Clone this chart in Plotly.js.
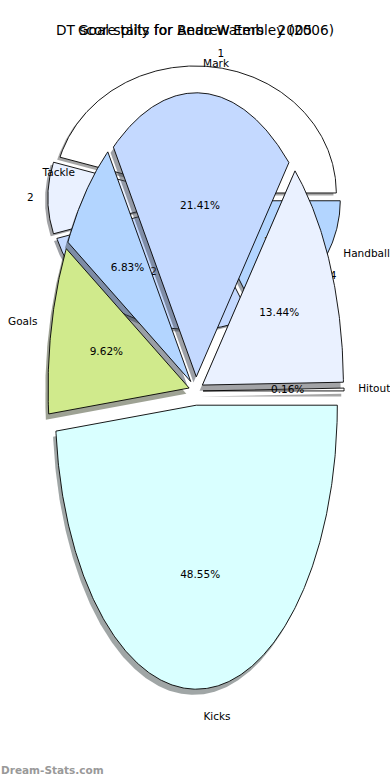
<!DOCTYPE html>
<html>
<head>
<meta charset="utf-8">
<script src="https://cdn.plot.ly/plotly-3.0.1.min.js"></script>
<style>
html,body{margin:0;padding:0;background:#ffffff;}
#chart{width:390px;height:780px;}
</style>
</head>
<body>
<div id="chart"></div>
<script>
// ---------------- DATA ----------------
// Front pie: DT score tally (percent of total), counter-clockwise from 0 deg
const dtLabels  = ['Hitout', 'Handballs', 'Mark', 'Tackle', 'Goals', 'Kicks'];
const dtPercent = [0.16, 13.44, 21.41, 6.83, 9.62, 48.55];
const dtColors  = ['#FFFFFF', '#EAF1FF', '#C4D9FF', '#B3D5FF', '#D0EA8C', '#D9FFFF'];
const dtTitle   = 'DT score tally for Andrew Embley (2006)';

// Back pie: goal splits by quarter
const gsLabels  = ['1', '2', '3', '4'];
const gsGoals   = [5, 1, 3, 2];
const gsColors  = ['#FFFFFF', '#EAF1FF', '#C4D9FF', '#B3D5FF'];
const gsTitle   = 'Goal splits for Beau Waters - 2005';

const watermark = 'Dream-Stats.com';

// ---------------- GEOMETRY / STYLE ----------------
const W = 390, H = 780;
const FONT = 'DejaVu Sans, Verdana, sans-serif';
const dtGeom = {cx: 196, cy: 391, rx: 141, ry: 284, explode: 0.05};
const gsGeom = {cx: 194.5, cy: 198, rx: 141, ry: 127, explode: 0.04};

function shadowColor(hex) {
  const r = parseInt(hex.slice(1,3),16), g = parseInt(hex.slice(3,5),16), b = parseInt(hex.slice(5,7),16);
  return 'rgba(' + Math.round(0.3*r) + ',' + Math.round(0.3*g) + ',' + Math.round(0.3*b) + ',0.5)';
}

function buildPie(values, labels, colors, geom, xa, ya, pctFmt) {
  const total = values.reduce((a, b) => a + b, 0);
  const shadows = [], wedges = [];
  const lx = [], ly = [], lt = [], lp = [];
  const px = [], py = [], pt = [];
  let t1 = 0;
  values.forEach((v, i) => {
    const t2 = t1 + 360 * v / total;
    const mid = (t1 + t2) / 2 * Math.PI / 180;
    const ox = geom.explode * Math.cos(mid), oy = geom.explode * Math.sin(mid);
    const xs = [ox], ys = [oy];
    const n = Math.max(2, Math.ceil((t2 - t1) / 0.5));
    for (let k = 0; k <= n; k++) {
      const t = (t1 + (t2 - t1) * k / n) * Math.PI / 180;
      xs.push(ox + Math.cos(t));
      ys.push(oy + Math.sin(t));
    }
    xs.push(ox); ys.push(oy);
    shadows.push({
      type: 'scatter', mode: 'lines', xaxis: xa, yaxis: ya,
      x: xs.map(q => q - 0.02), y: ys.map(q => q - 0.02),
      fill: 'toself', fillcolor: shadowColor(colors[i]),
      line: {width: 0, color: 'rgba(0,0,0,0)'}, hoverinfo: 'skip', showlegend: false
    });
    wedges.push({
      type: 'scatter', mode: 'lines', xaxis: xa, yaxis: ya,
      x: xs, y: ys, fill: 'toself', fillcolor: colors[i],
      line: {width: 0.9, color: '#000000'}, hoverinfo: 'skip', showlegend: false
    });
    const cl = Math.cos(mid), sl = Math.sin(mid);
    lx.push((1.1 + geom.explode) * cl); ly.push((1.1 + geom.explode) * sl);
    lt.push(labels[i]);
    lp.push(cl > 0 ? 'middle right' : 'middle left');
    px.push((0.6 + geom.explode) * cl); py.push((0.6 + geom.explode) * sl);
    pt.push(pctFmt(100 * v / total));
    t1 = t2;
  });
  const labelTrace = {
    type: 'scatter', mode: 'text', xaxis: xa, yaxis: ya,
    x: lx, y: ly, text: lt, textposition: lp,
    textfont: {family: FONT, size: 10.5, color: '#000000'},
    hoverinfo: 'skip', showlegend: false, cliponaxis: false
  };
  const pctTrace = {
    type: 'scatter', mode: 'text', xaxis: xa, yaxis: ya,
    x: px, y: py, text: pt, textposition: 'middle center',
    textfont: {family: FONT, size: 10.5, color: '#000000'},
    hoverinfo: 'skip', showlegend: false, cliponaxis: false
  };
  return shadows.concat(wedges, [labelTrace, pctTrace]);
}

const backTraces  = buildPie(gsGoals, gsLabels, gsColors, gsGeom, 'x', 'y',
                             p => String(Math.floor(p)));
const frontTraces = buildPie(dtPercent, dtLabels, dtColors, dtGeom, 'x2', 'y2',
                             p => p.toFixed(2) + '%');

function axisRangeX(g) { return [-g.cx / g.rx, (W - g.cx) / g.rx]; }
function axisRangeY(g) { return [-(H - g.cy) / g.ry, g.cy / g.ry]; }
const hiddenAxis = {visible: false, showgrid: false, zeroline: false, fixedrange: true, domain: [0, 1]};

const layout = {
  width: W, height: H,
  margin: {l: 0, r: 0, t: 0, b: 0, pad: 0},
  paper_bgcolor: '#ffffff', plot_bgcolor: 'rgba(0,0,0,0)',
  showlegend: false, hovermode: false,
  font: {family: FONT, color: '#000000'},
  xaxis:  Object.assign({}, hiddenAxis, {range: axisRangeX(gsGeom)}),
  yaxis:  Object.assign({}, hiddenAxis, {range: axisRangeY(gsGeom)}),
  xaxis2: Object.assign({}, hiddenAxis, {range: axisRangeX(dtGeom), overlaying: 'x'}),
  yaxis2: Object.assign({}, hiddenAxis, {range: axisRangeY(dtGeom), overlaying: 'y'}),
  title: {
    text: dtTitle, x: 0.5, xanchor: 'center', xref: 'paper',
    y: 1 - 30 / H, yanchor: 'middle', yref: 'paper',
    font: {family: FONT, size: 13.7, color: '#000000'}
  },
  annotations: [
    {text: gsTitle, xref: 'paper', yref: 'paper', x: 0.5, y: 1 - 30 / H,
     xanchor: 'center', yanchor: 'middle', showarrow: false, borderpad: 0,
     font: {family: FONT, size: 13.7, color: '#000000'}},
    {text: '<b>' + watermark + '</b>', xref: 'paper', yref: 'paper', x: 0, y: 1 - 770 / H,
     xanchor: 'left', yanchor: 'middle', showarrow: false, borderpad: 0,
     font: {family: FONT, size: 10.5, color: '#999999'}}
  ]
};

Plotly.newPlot('chart', backTraces.concat(frontTraces), layout, {displayModeBar: false, staticPlot: true});
</script>
</body>
</html>
